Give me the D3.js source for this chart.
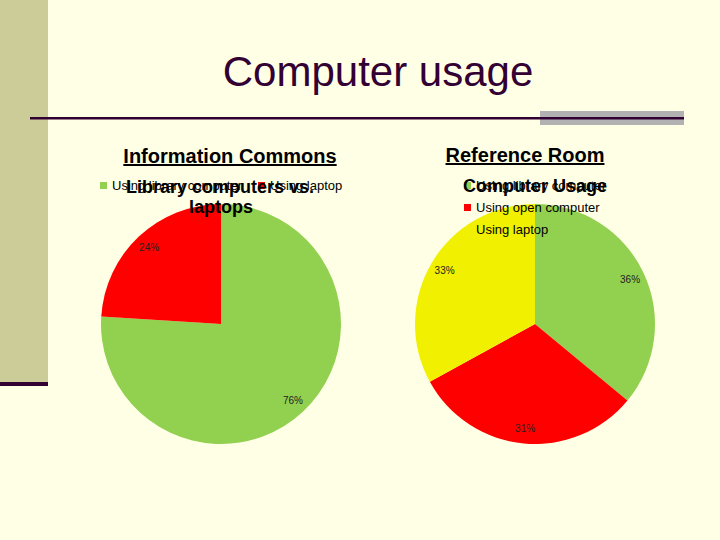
<!DOCTYPE html>
<html>
<head>
<meta charset="utf-8">
<script src="https://cdn.jsdelivr.net/npm/d3@7"></script>
<style>
  body { margin: 0; background: #ffffe5; }
  svg { display: block; font-family: "Liberation Sans", Arial, sans-serif; }
</style>
</head>
<body>
<div id="chart"></div>
<script>
// data
const commonsLabels = ["Using library computer", "Using laptop"];
const commonsValues = [76, 24];
const commonsColors = ["#92d050", "#ff0000"];

const refLabels = ["Using library computer", "Using open computer", "Using laptop"];
const refValues = [36, 31, 33];
const refColors = ["#92d050", "#ff0000", "#f0f000"];

const width = 720, height = 540;

const svg = d3.select("#chart").append("svg")
    .attr("width", width)
    .attr("height", height);

svg.append("rect").attr("width", width).attr("height", height).attr("fill", "#ffffe5");

// slide decoration
svg.append("rect").attr("x", 0).attr("y", 0).attr("width", 48).attr("height", 383).attr("fill", "#cccc99");
svg.append("rect").attr("x", 0).attr("y", 382).attr("width", 48).attr("height", 4).attr("fill", "#330033");
svg.append("rect").attr("x", 540).attr("y", 111).attr("width", 144).attr("height", 14).attr("fill", "#b2b2b2");
svg.append("rect").attr("x", 30).attr("y", 117).attr("width", 654).attr("height", 2.5).attr("fill", "#330033");

svg.append("text")
    .attr("x", 378).attr("y", 86)
    .attr("text-anchor", "middle")
    .attr("font-size", 42)
    .attr("fill", "#330033")
    .text("Computer usage");

function drawPie(cfg) {
    const g = svg.append("g").attr("transform", `translate(${cfg.cx}, ${cfg.cy})`);
    const pie = d3.pie().sort(null).value(d => d.value);
    const arc = d3.arc().innerRadius(0).outerRadius(cfg.r);
    const labelArc = d3.arc().innerRadius(cfg.r * 0.875).outerRadius(cfg.r * 0.875);
    const data = cfg.values.map((v, i) => ({value: v, color: cfg.colors[i]}));
    const arcs = pie(data);

    g.selectAll("path")
        .data(arcs)
        .enter().append("path")
        .attr("d", arc)
        .attr("fill", d => d.data.color);

    g.selectAll("text")
        .data(arcs)
        .enter().append("text")
        .attr("transform", d => `translate(${labelArc.centroid(d)})`)
        .attr("text-anchor", "middle")
        .attr("dy", "0.35em")
        .attr("font-size", 10)
        .attr("fill", "#222")
        .text(d => d.data.value + "%");
}

function heading(x, y, txt) {
    svg.append("text")
        .attr("x", x).attr("y", y)
        .attr("text-anchor", "middle")
        .attr("font-size", 20)
        .attr("font-weight", "bold")
        .attr("fill", "#000")
        .attr("text-decoration", "underline")
        .text(txt);
}

function legendItem(x, y, color, txt, showMarker) {
    if (showMarker) {
        svg.append("rect").attr("x", x).attr("y", y - 8).attr("width", 7).attr("height", 7).attr("fill", color);
    }
    svg.append("text")
        .attr("x", x + 12).attr("y", y)
        .attr("font-size", 13)
        .attr("fill", "#000")
        .text(txt);
}

// Information Commons
heading(230, 163, "Information Commons");
drawPie({cx: 221, cy: 324, r: 120, values: commonsValues, colors: commonsColors});
legendItem(100, 190, commonsColors[0], commonsLabels[0], true);
legendItem(258, 190, commonsColors[1], commonsLabels[1], true);
svg.append("text")
    .attr("x", 220).attr("y", 193)
    .attr("text-anchor", "middle").attr("font-size", 18).attr("font-weight", "bold")
    .text("Library computers vs.");
svg.append("text")
    .attr("x", 221).attr("y", 213)
    .attr("text-anchor", "middle").attr("font-size", 18).attr("font-weight", "bold")
    .text("laptops");

// Reference Room
heading(525, 162, "Reference Room");
drawPie({cx: 535, cy: 324, r: 120, values: refValues, colors: refColors});
legendItem(464, 190, refColors[0], refLabels[0], true);
legendItem(464, 212, refColors[1], refLabels[1], true);
legendItem(464, 234, refColors[2], refLabels[2], false);
svg.append("text")
    .attr("x", 535).attr("y", 192)
    .attr("text-anchor", "middle").attr("font-size", 18).attr("font-weight", "bold")
    .text("Computer Usage");
</script>
</body>
</html>
